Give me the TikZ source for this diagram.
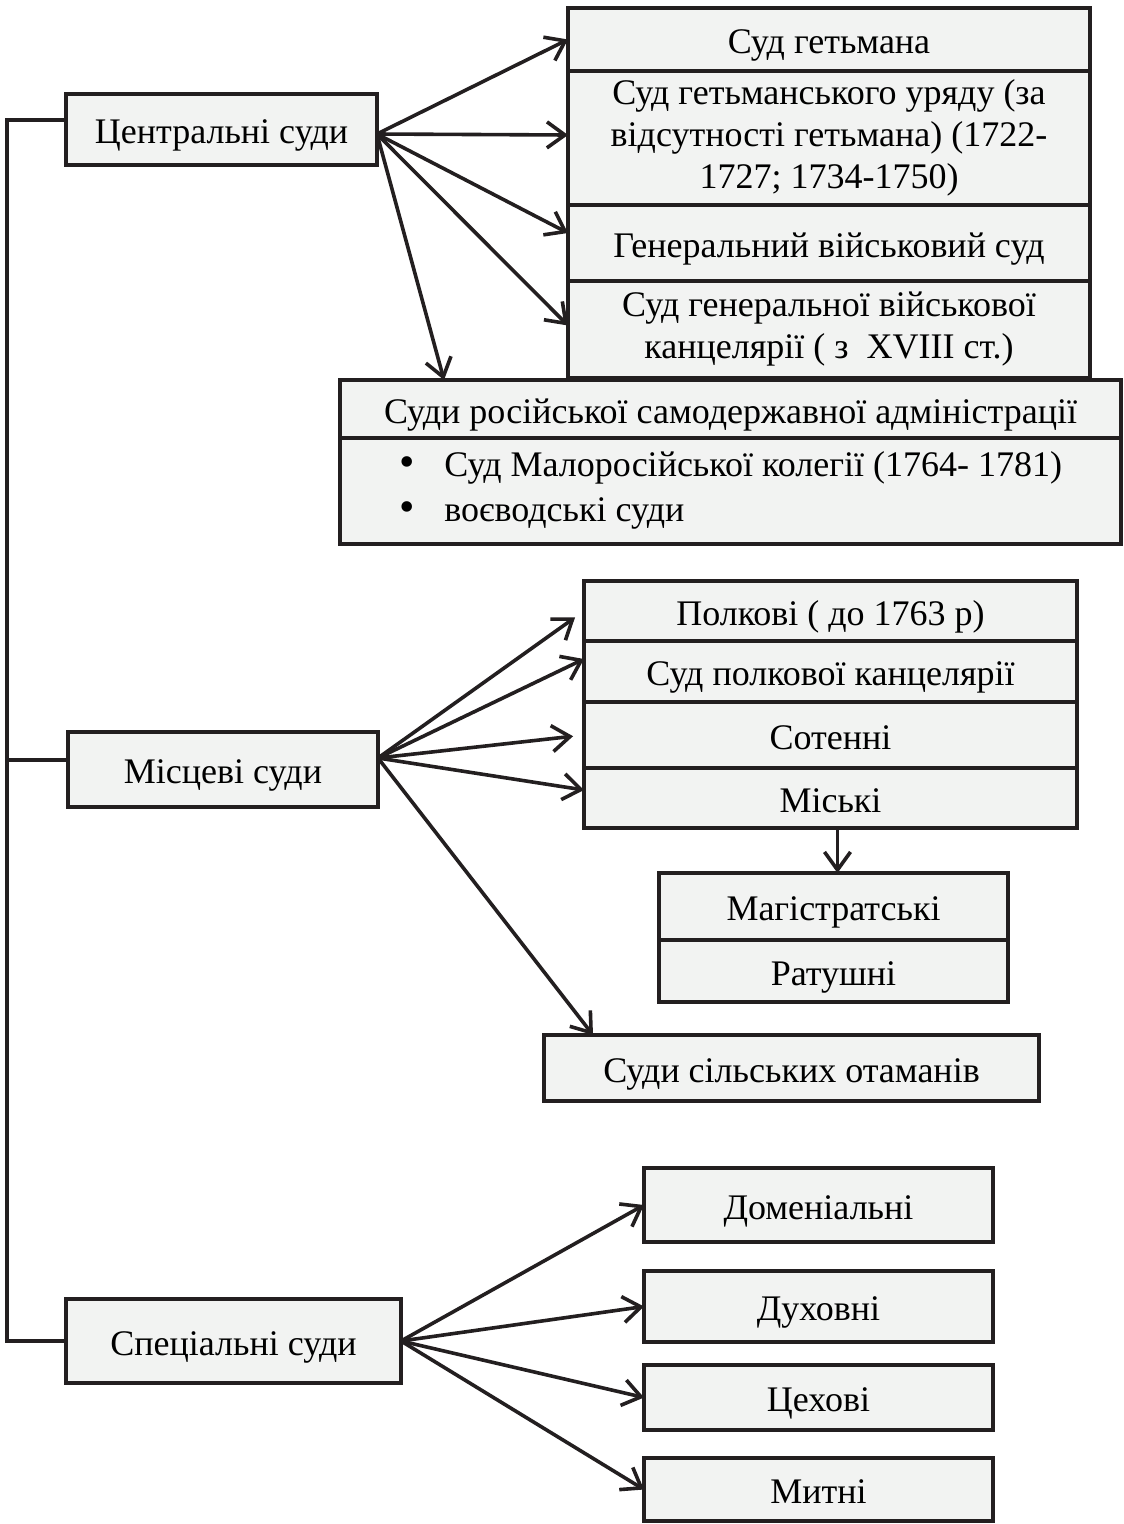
\documentclass[tikz,border=0pt]{standalone}
\usepackage{fontspec}
\setmainfont{Liberation Serif}
\usetikzlibrary{positioning, arrows.meta}
\definecolor{boxfill}{RGB}{242,243,242}
\definecolor{ink}{RGB}{35,31,32}
\newcommand{\listdot}{{\fontsize{44}{45}\selectfont\textbullet}\hspace{30pt}}

\begin{document}
\begin{tikzpicture}[
        x=1pt, y=-1pt,
        every node/.style={font=\fontsize{36}{42}\selectfont},
        box/.style={rectangle, draw=ink, fill=boxfill, line width=4.5pt, outer sep=0pt, inner sep=0pt, align=center,
            execute at begin node={\rule{0pt}{36pt}}, execute at end node={\rule[-8pt]{0pt}{0pt}}},
        arrow/.style={-{Straight Barb[length=18pt, width=26pt]}, draw=ink, line width=3.6pt},
        link/.style={draw=ink, line width=4pt}
    ]
    \useasboundingbox (0,0) rectangle (1124,1524);
%
    % Central courts
    \node[box, minimum width=311pt, minimum height=71pt] (central) at (221.5,129.5) {Центральні суди};
    \node[box, minimum width=522pt, minimum height=63pt] (hetman) at (829,39.5) {Суд гетьмана};
    \node[box, minimum width=522pt, minimum height=134pt, below=0pt of hetman] (uriad) {Суд гетьманського уряду (за\\відсутності гетьмана) (1722-\\1727; 1734-1750)};
    \node[box, minimum width=522pt, minimum height=76pt, below=0pt of uriad] (gensud) {Генеральний військовий суд};
    \node[box, minimum width=522pt, minimum height=97pt, below=0pt of gensud] (kanc) {Суд генеральної військової\\канцелярії ( з~~XVIII ст.)};
    \node[box, minimum width=781pt, minimum height=58pt] (rustitle) at (730.5,409) {Суди російської самодержавної адміністрації};
    \node[box, minimum width=781pt, minimum height=106pt, below=0pt of rustitle, align=left, font=\fontsize{36}{45}\selectfont] (ruslist) {\listdot Суд Малоросійської колегії (1764- 1781)\\\listdot воєводські суди};
%
    \coordinate (cfrom) at ([yshift=-4.5pt]central.east);
    \draw[arrow] (cfrom) -- (hetman.west);
    \draw[arrow] (cfrom) -- ([yshift=3pt]uriad.west);
    \draw[arrow] (cfrom) -- ([yshift=10pt]gensud.west);
    \draw[arrow] (cfrom) -- ([yshift=4pt]kanc.west);
    \draw[arrow] (cfrom) -- ([xshift=104pt]rustitle.north west);
%
    % Local courts
    \node[box, minimum width=310pt, minimum height=75pt] (mistsevi) at (223,769.5) {Місцеві суди};
    \node[box, minimum width=493pt, minimum height=60pt] (polk) at (830.5,611) {Полкові ( до 1763 р)};
    \node[box, minimum width=493pt, minimum height=61pt, below=0pt of polk] (polkkanc) {Суд полкової канцелярії};
    \node[box, minimum width=493pt, minimum height=66pt, below=0pt of polkkanc] (sotenni) {Сотенні};
    \node[box, minimum width=493pt, minimum height=60pt, below=0pt of sotenni] (miski) {Міські};
    \node[box, minimum width=349pt, minimum height=67pt] (magistr) at (833.5,906.5) {Магістратські};
    \node[box, minimum width=349pt, minimum height=62pt, below=0pt of magistr] (ratushni) {Ратушні};
    \node[box, minimum width=495pt, minimum height=66pt] (silski) at (791.5,1068) {Суди сільських отаманів};
%
    \coordinate (mfrom) at ([yshift=11.5pt]mistsevi.east);
    \draw[arrow, shorten >=11pt] (mfrom) -- (polk.west);
    \draw[arrow] (mfrom) -- ([yshift=12.5pt]polkkanc.west);
    \draw[arrow, shorten >=11pt] (mfrom) -- (sotenni.west);
    \draw[arrow] (mfrom) -- ([yshift=8pt]miski.west);
    \draw[arrow] (mfrom) -- ([xshift=49pt]silski.north west);
    \draw[arrow] ([xshift=4pt]magistr.north |- miski.south) -- ([xshift=4pt]magistr.north);
%
    % Special courts
    \node[box, minimum width=335pt, minimum height=84pt] (spets) at (233.5,1341) {Спеціальні суди};
    \node[box, minimum width=349pt, minimum height=74pt] (domen) at (818.5,1205) {Доменіальні};
    \node[box, minimum width=349pt, minimum height=71pt] (dukh) at (818.5,1306.5) {Духовні};
    \node[box, minimum width=349pt, minimum height=65pt] (tsekh) at (818.5,1397.5) {Цехові};
    \node[box, minimum width=349pt, minimum height=63pt] (mytni) at (818.5,1489.5) {Митні};
%
    \draw[arrow] (spets.east) -- (domen.west);
    \draw[arrow] (spets.east) -- (dukh.west);
    \draw[arrow] (spets.east) -- (tsekh.west);
    \draw[arrow] (spets.east) -- (mytni.west);
%
    % Spine
    \draw[link] ([yshift=9.5pt]central.west) -- ++(-59,0) |- (spets.west);
    \draw[link] ([yshift=9.5pt]mistsevi.west) -- ++(-61,0);
%
\end{tikzpicture}
\end{document}
